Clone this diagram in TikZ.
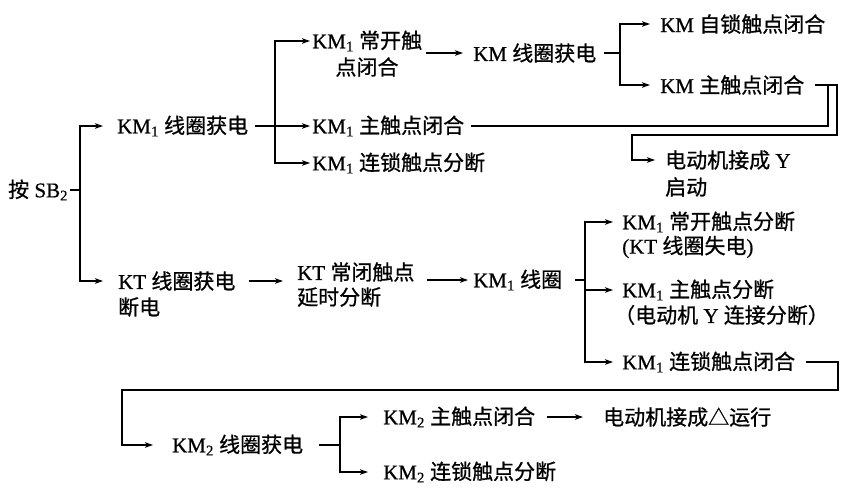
\documentclass[tikz,border=0pt]{standalone}
\usepackage{fontspec}
\setmainfont{Liberation Serif}[FakeBold=0.6]
\newfontfamily\cjk[FakeBold=0.8]{Noto Sans CJK SC}
\usetikzlibrary{arrows.meta}
\newcommand\zh[1]{{\cjk #1}}
\newcommand\KMa{KM\textsubscript{1}}
\newcommand\KMb{KM\textsubscript{2}}
\begin{document}
\begin{tikzpicture}[x=1pt,y=-1pt,
  txt/.style={inner sep=0pt, anchor=west, font=\fontsize{21}{25}\selectfont},
  ln/.style={line width=1.3pt},
  arr/.style={ln, -{Stealth[length=8pt,width=5.5pt,inset=2pt]}},
]
\useasboundingbox (0,0) rectangle (856,495);

% nodes
\node[txt] (sb) at (8,190) {\zh{按} SB\textsubscript{2}};
\node[txt] (km1c) at (117,126) {\KMa\ \zh{线圈获电}};
\node[txt] (kt) at (118,281) {KT \zh{线圈获电}};
\node[txt] (kt2) at (118,307) {\zh{断电}};
\node[txt] (km1no) at (312,41) {\KMa\ \zh{常开触}};
\node[txt,anchor=center] (km1no2) at (367,67) {\zh{点闭合}};
\node[txt] (km1m) at (312,126) {\KMa\ \zh{主触点闭合}};
\node[txt] (km1i) at (312,163) {\KMa\ \zh{连锁触点分断}};
\node[txt] (kmc) at (473,53) {KM \zh{线圈获电}};
\node[txt] (kms) at (660,24) {KM \zh{自锁触点闭合}};
\node[txt] (kmm) at (660,85) {KM \zh{主触点闭合}};
\node[txt] (my) at (665,160) {\zh{电动机接成} Y};
\node[txt] (my2) at (665,187) {\zh{启动}};
\node[txt] (ktnc) at (297,272) {KT \zh{常闭触点}};
\node[txt] (ktnc2) at (297,297) {\zh{延时分断}};
\node[txt] (km1coil) at (473,280) {\KMa\ \zh{线圈}};
\node[txt] (km1o) at (622,222) {\KMa\ \zh{常开触点分断}};
\node[txt] (km1o2) at (622,247) {(KT \zh{线圈失电})};
\node[txt] (km1mo) at (622,290) {\KMa\ \zh{主触点分断}};
\node[txt] (km1mo2) at (614,315) {\zh{（电动机} Y \zh{连接分断）}};
\node[txt] (km1ic) at (622,362) {\KMa\ \zh{连锁触点闭合}};
\node[txt] (km2c) at (172,445) {\KMb\ \zh{线圈获电}};
\node[txt] (km2m) at (383,417) {\KMb\ \zh{主触点闭合}};
\node[txt] (mdel) at (603,417) {\zh{电动机接成△运行}};
\node[txt] (km2i) at (383,472) {\KMb\ \zh{连锁触点分断}};

% junction coordinates
\coordinate (j0) at (80,0);
\coordinate (j1) at (275,0);
\coordinate (j2) at (620,0);
\coordinate (j3) at (837,0);
\coordinate (j4) at (828,0);
\coordinate (j5) at (632,135);
\coordinate (j6) at (585,0);
\coordinate (j7) at (838,390);
\coordinate (j8) at (122,0);
\coordinate (j9) at (340,0);

% SB2 split
\draw[ln,shorten <=2pt] (sb.east) -- (sb.east -| j0);
\draw[arr,shorten >=14pt] (sb.east -| j0) |- (km1c.west);
\draw[arr,shorten >=15pt] (sb.east -| j0) |- (kt.west);

% KM1 coil
\draw[arr,shorten <=7pt,shorten >=2pt] (km1c.east) -- (km1m.west);
\draw[arr,shorten >=2pt] (km1c.east -| j1) |- (km1no.west);
\draw[arr,shorten >=2pt] (km1c.east -| j1) |- (km1i.west);

% KM1 NO -> KM coil
\draw[arr,shorten <=4pt,shorten >=10pt] (km1no.east |- kmc.west) -- (kmc.west);

% KM coil split
\draw[ln,shorten <=8pt] (kmc.east) -- (kmc.east -| j2);
\draw[arr,shorten >=10pt] (kmc.east -| j2) |- (kms.west);
\draw[arr,shorten >=10pt] (kmc.east -| j2) |- (kmm.west);

% merge to motor Y
\draw[arr,shorten <=10pt,shorten >=10pt] (kmm.east) -- (kmm.east -| j3) |- (j5) |- (my.west);
\draw[ln,shorten <=7pt] (km1m.east) -- (km1m.east -| j4) -- (kmm.east -| j4);

% KT branch
\draw[arr,shorten <=13pt,shorten >=14pt] (kt.east) -- (kt.east -| ktnc.west);
\draw[arr,shorten <=12pt,shorten >=5pt] (km1coil.west -| ktnc.east) -- (km1coil.west);

% KM1 coil split
\draw[ln,shorten <=13pt] (km1coil.east) -- (km1coil.east -| j6);
\draw[arr,shorten >=9pt] (km1coil.east -| j6) |- (km1o.west);
\draw[arr,shorten >=9pt] (km1coil.east -| j6) |- (km1mo.west);
\draw[arr,shorten >=9pt] (km1coil.east -| j6) |- (km1ic.west);

% to KM2 coil
\draw[arr,shorten <=11pt,shorten >=19pt] (km1ic.east) -- (km1ic.east -| j7) -- (j7) -- (j7 -| j8) |- (km2c.west);

% KM2 coil split
\draw[ln,shorten <=16pt] (km2c.east) -- (km2c.east -| j9);
\draw[arr,shorten >=15pt] (km2c.east -| j9) |- (km2m.west);
\draw[arr,shorten >=15pt] (km2c.east -| j9) |- (km2i.west);
\draw[arr,shorten <=12pt,shorten >=20pt] (km2m.east) -- (mdel.west);
\end{tikzpicture}
\end{document}
